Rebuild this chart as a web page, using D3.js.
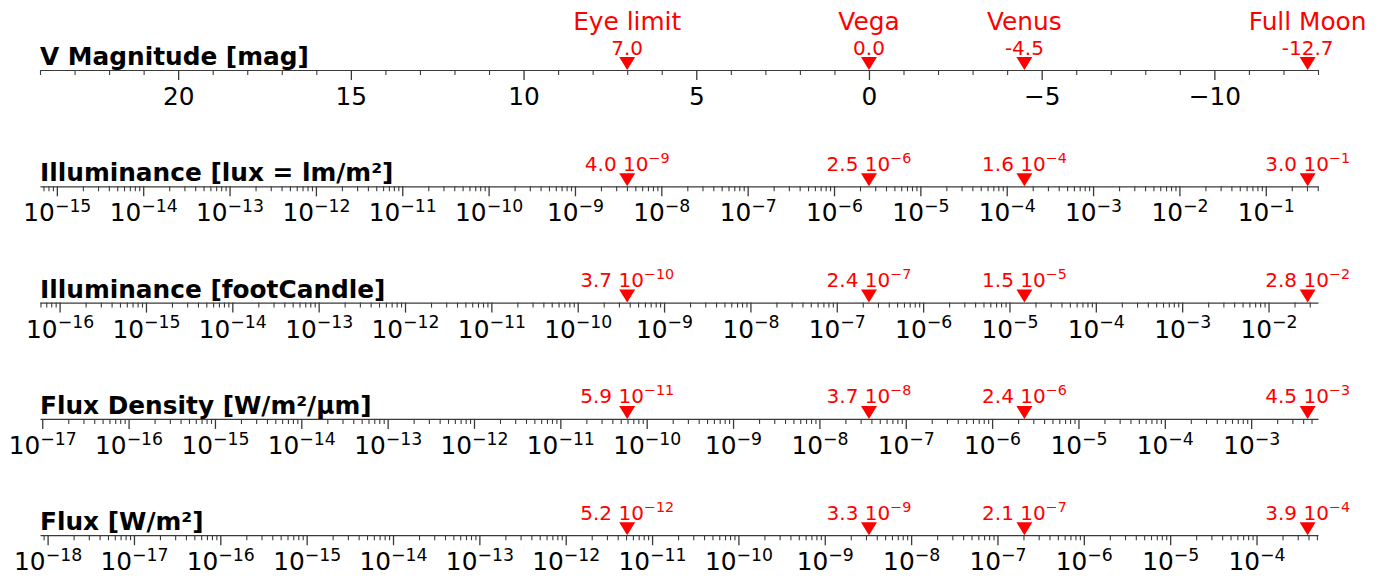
<!DOCTYPE html>
<html><head><meta charset="utf-8">
<script src="https://cdn.jsdelivr.net/npm/d3@7"></script>
<style>
body{margin:0;background:#fff}
svg{display:block}
text{font-family:"DejaVu Sans",sans-serif}
</style></head>
<body><svg id="chart" width="1388" height="578"></svg>
<script>
// ---- data ----
const axisTitles = ["V Magnitude [mag]", "Illuminance [lux = lm/m²]", "Illuminance [footCandle]", "Flux Density [W/m²/µm]", "Flux [W/m²]"];
const magDomain = [24, -13];
const magMajorTicks = [20, 15, 10, 5, 0, -5, -10];
const logZeroPoints = [2.54e-6, 2.36e-7, 3.75e-8, 3.25e-9]; // value at V = 0 for lux, fc, W/m²/µm, W/m²
const markerNames = ["Eye limit", "Vega", "Venus", "Full Moon"];
const markerMags = [7.0, 0.0, -4.5, -12.7];
const magValueLabels = ["7.0", "0.0", "-4.5", "-12.7"];
const luxMantissa = ["4.0", "2.5", "1.6", "3.0"];
const luxExponent = [-9, -6, -4, -1];
const fcMantissa = ["3.7", "2.4", "1.5", "2.8"];
const fcExponent = [-10, -7, -5, -2];
const fdMantissa = ["5.9", "3.7", "2.4", "4.5"];
const fdExponent = [-11, -8, -6, -3];
const fxMantissa = ["5.2", "3.3", "2.1", "3.9"];
const fxExponent = [-12, -9, -7, -4];
const logMantissas = [luxMantissa, fcMantissa, fdMantissa, fxMantissa];
const logExponents = [luxExponent, fcExponent, fdExponent, fxExponent];

// ---- layout ----
const x0 = 40, x1 = 1318;
const axisY0 = 70, axisStep = 116.3;
const svg = d3.select("#chart");
const RED = "#ff0000";
const lineColor = "#3a3a3a";
const FS = 24.8, FS_SUP = 17.3, FS_VAL = 20, FS_VAL_SUP = 14.3;

const magScale = d3.scaleLinear().domain(magDomain).range([x0, x1]);

function styleAxis(g, width) {
  g.select(".domain").attr("stroke", lineColor).attr("stroke-width", 1.2);
  g.selectAll(".tick line").attr("stroke", lineColor).attr("stroke-width", width);
}

function addSupText(sel, base, exp, supSize, shift) {
  sel.append("tspan").text(base);
  sel.append("tspan").attr("font-size", supSize).attr("dy", -shift).text("\u2212" + Math.abs(exp));
}

function drawMarkers(g, showNames, labelFn) {
  markerMags.forEach((m, j) => {
    const cx = magScale(m);
    const p = d3.path();
    p.moveTo(cx - 8, -13); p.lineTo(cx + 8, -13); p.lineTo(cx, 0); p.closePath();
    g.append("path").attr("d", p.toString()).attr("fill", RED);
    const t = g.append("text").attr("x", cx).attr("y", -15.5)
      .attr("text-anchor", "middle").attr("fill", RED).attr("font-size", FS_VAL);
    labelFn(t, j);
    if (showNames) {
      g.append("text").attr("x", cx).attr("y", -40).attr("text-anchor", "middle")
        .attr("fill", RED).attr("font-size", FS).text(markerNames[j]);
    }
  });
}

// ---- magnitude axis ----
{
  const y = axisY0;
  const g = svg.append("g").attr("transform", `translate(0,${y})`);
  const minors = d3.range(magDomain[0], magDomain[1] - 0.5, -1).filter(v => v % 5 !== 0);
  const gMin = g.append("g").call(d3.axisBottom(magScale).tickValues(minors).tickSize(5).tickSizeOuter(0).tickFormat(""));
  styleAxis(gMin, 1.1);
  const gMaj = g.append("g").call(d3.axisBottom(magScale).tickValues(magMajorTicks).tickSize(10).tickSizeOuter(0));
  gMaj.select(".domain").remove();
  styleAxis(gMaj, 1.3);
  gMaj.selectAll(".tick text").attr("y", 35).attr("dy", 0).attr("font-size", FS)
    .attr("font-family", '"DejaVu Sans", sans-serif').attr("fill", "#000");
  g.append("text").attr("x", x0).attr("y", -5.5).attr("font-size", FS).attr("font-weight", "bold")
    .attr("fill", "#000").text(axisTitles[0]);
  drawMarkers(g, true, (t, j) => t.text(magValueLabels[j]));
}

// ---- log axes ----
logZeroPoints.forEach((f0, i) => {
  const y = axisY0 + (i + 1) * axisStep;
  const lo = f0 * Math.pow(10, -0.4 * magDomain[0]);
  const hi = f0 * Math.pow(10, -0.4 * magDomain[1]);
  const scale = d3.scaleLog().domain([lo, hi]).range([x0, x1]);
  const kMin = Math.floor(Math.log10(lo)), kMax = Math.ceil(Math.log10(hi));
  const majors = [], minors = [];
  for (let k = kMin; k <= kMax; k++) {
    const p = Math.pow(10, k);
    if (p >= lo && p <= hi) majors.push(p);
    for (let d = 2; d <= 9; d++) {
      const v = d * p;
      if (v >= lo && v <= hi) minors.push(v);
    }
  }
  const g = svg.append("g").attr("transform", `translate(0,${y})`);
  const gMin = g.append("g").call(d3.axisBottom(scale).tickValues(minors).tickSize(5).tickSizeOuter(0).tickFormat(""));
  styleAxis(gMin, 1.1);
  const gMaj = g.append("g").call(d3.axisBottom(scale).tickValues(majors).tickSize(10).tickSizeOuter(0).tickFormat(""));
  gMaj.select(".domain").remove();
  styleAxis(gMaj, 1.3);
  gMaj.selectAll(".tick").each(function(d) {
    const e = Math.round(Math.log10(d));
    const t = d3.select(this).select("text").attr("y", 35).attr("dy", 0).attr("font-size", FS)
      .attr("font-family", '"DejaVu Sans", sans-serif').attr("fill", "#000");
    addSupText(t, "10", e, FS_SUP, 9.3);
  });
  g.append("text").attr("x", x0).attr("y", -5).attr("font-size", FS).attr("font-weight", "bold")
    .attr("fill", "#000").text(axisTitles[i + 1]);
  drawMarkers(g, false, (t, j) => addSupText(t, logMantissas[i][j] + " 10", logExponents[i][j], FS_VAL_SUP, 8));
});
</script>
</body></html>
